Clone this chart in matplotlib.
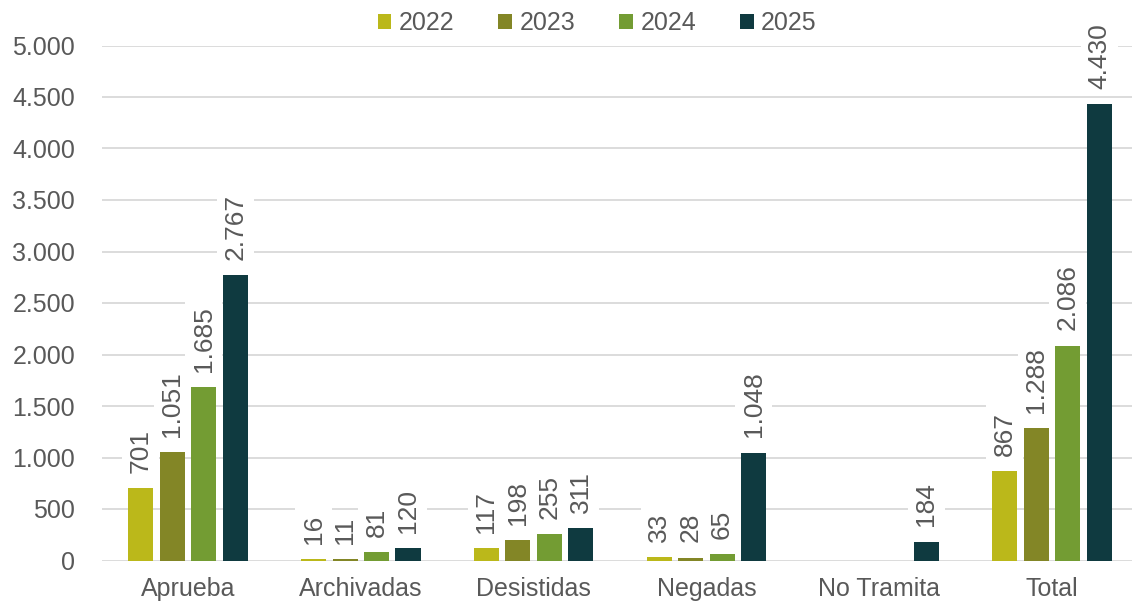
import matplotlib.pyplot as plt
import numpy as np

plt.rcParams['font.family'] = ['Liberation Sans', 'DejaVu Sans']

categorias = ['Aprueba', 'Archivadas', 'Desistidas', 'Negadas', 'No Tramita', 'Total']
anios = ['2022', '2023', '2024', '2025']
v2022 = [701, 16, 117, 33, 0, 867]
v2023 = [1051, 11, 198, 28, 0, 1288]
v2024 = [1685, 81, 255, 65, 0, 2086]
v2025 = [2767, 120, 311, 1048, 184, 4430]
colores = ['#BBB81A', '#838626', '#739C33', '#0F3A40']

gris = '#595959'

fig = plt.figure(figsize=(11.32, 6.07), dpi=100)
ax = fig.add_axes([101.6 / 1132, (607 - 560.5) / 607, 1036.8 / 1132, 515 / 607])

x = np.arange(len(categorias))
paso = 0.182
ancho = 0.145
series = [v2022, v2023, v2024, v2025]

def fmt(v):
    return f'{v:,}'.replace(',', '.')

for i, (vals, col, anio) in enumerate(zip(series, colores, anios)):
    pos = x + (i - 1.5) * paso
    ax.bar(pos, vals, width=ancho, color=col, label=anio, zorder=3)
    for p, v in zip(pos, vals):
        if v == 0:
            continue
        ax.annotate(fmt(v), (p, v), xytext=(0, 11), textcoords='offset points',
                    rotation=90, ha='center', va='bottom', fontsize=19, color=gris,
                    bbox=dict(boxstyle='square,pad=0.25', fc='white', ec='none'),
                    annotation_clip=False, zorder=4)

ax.set_xlim(-0.5, len(categorias) - 0.5)
ax.set_ylim(0, 5000)
ax.set_yticks(range(0, 5001, 500))
ax.set_yticklabels([fmt(t) for t in range(0, 5001, 500)])
ax.set_xticks(x)
ax.set_xticklabels(categorias)
ax.tick_params(axis='both', length=0, labelsize=18, colors=gris)
ax.tick_params(axis='x', pad=12)
ax.tick_params(axis='y', pad=19)
ax.grid(axis='y', color='#D9D9D9', linewidth=1.3, zorder=0)
for s in ax.spines.values():
    s.set_visible(False)

ax.legend(loc='lower center', bbox_to_anchor=(0.478, 1.0), ncol=4, frameon=False,
          fontsize=18, labelcolor=gris, handlelength=0.55, handleheight=0.55,
          handletextpad=0.3, columnspacing=1.75, borderaxespad=0.0)

fig.savefig('out.png', dpi=100)
